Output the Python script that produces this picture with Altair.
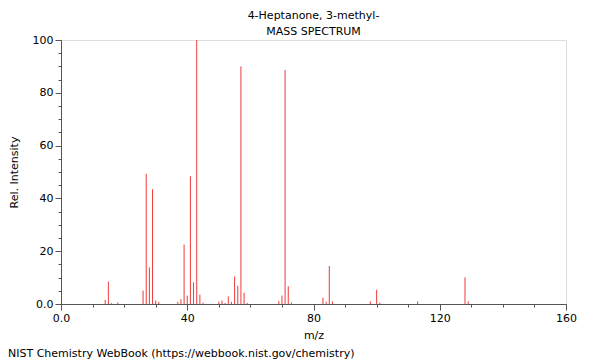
import altair as alt
import pandas as pd

mz = [14, 15, 16, 18, 26, 27, 28, 29, 30, 31, 37, 38, 39, 40, 41, 42, 43, 44, 45,
      50, 51, 52, 53, 54, 55, 56, 57, 58, 59, 69, 70, 71, 72, 73,
      83, 84, 85, 86, 98, 100, 101, 113, 128, 129]
intensity = [1.5, 8.5, 0.3, 0.6, 5.1, 49.3, 13.9, 43.5, 1.3, 0.8, 0.8, 1.8, 22.5, 3.2, 48.4, 8.2, 100.0, 3.5, 0.5,
             0.9, 1.3, 0.4, 2.9, 0.8, 10.4, 6.9, 90.0, 4.3, 0.4, 1.1, 3.2, 88.6, 6.7, 0.6,
             2.4, 0.8, 14.4, 1.0, 1.0, 5.4, 0.5, 1.0, 10.1, 1.0]

x_major = [0, 40, 80, 120, 160]
x_minor = list(range(0, 161, 10))
y_major = [0, 20, 40, 60, 80, 100]
y_minor = list(range(0, 101, 5))

title_lines = ["4-Heptanone, 3-methyl-", "MASS SPECTRUM"]
footer = "NIST Chemistry WebBook (https://webbook.nist.gov/chemistry)"

df = pd.DataFrame({"mz": mz, "intensity": intensity})

FONT = "DejaVu Sans"
AX = "#555555"
zero_lab = "datum.value == 0 ? '0.0' : datum.label"

xs = alt.Scale(domain=[0, 160], nice=False, zero=False)
ys = alt.Scale(domain=[0, 100], nice=False)

peaks = alt.Chart(df).mark_rule(color="#ee3b3b", strokeWidth=1).encode(
    x=alt.X("mz:Q", scale=xs,
            axis=alt.Axis(values=x_major, labelExpr=zero_lab, title="m/z", labelFlush=False,
                          tickSize=6, tickColor=AX, domainColor=AX, grid=False,
                          labelFont=FONT, labelFontSize=11, labelColor="black", labelPadding=2,
                          titleFont=FONT, titleFontSize=11, titleFontWeight="normal",
                          titlePadding=6, titleColor="black", orient="bottom")),
    y=alt.Y("intensity:Q", scale=ys,
            axis=alt.Axis(values=y_major, labelExpr=zero_lab, title="Rel. Intensity", labelFlush=False,
                          tickSize=6, tickColor=AX, domainColor=AX, grid=False,
                          labelFont=FONT, labelFontSize=11, labelColor="black", labelPadding=2,
                          titleFont=FONT, titleFontSize=11, titleFontWeight="normal",
                          titlePadding=13, titleColor="black", orient="left")),
    y2=alt.datum(0),
)

minor = alt.Chart(df).mark_point(opacity=0).encode(
    x=alt.X("mz:Q", scale=xs,
            axis=alt.Axis(values=x_minor, labels=False, title=None, tickSize=3,
                          tickColor=AX, domain=False, grid=False, orient="bottom")),
    y=alt.Y("intensity:Q", scale=ys,
            axis=alt.Axis(values=y_minor, labels=False, title=None, tickSize=3,
                          tickColor=AX, domain=False, grid=False, orient="left")),
)

foot = alt.Chart(pd.DataFrame({"t": [footer]})).mark_text(
    align="left", baseline="middle", font=FONT, fontSize=11, color="black"
).encode(text="t:N", x=alt.value(-53), y=alt.value(314))

chart = alt.layer(peaks, minor, foot).resolve_scale(
    x="independent", y="independent"
).resolve_axis(
    x="independent", y="independent"
).properties(
    width=505, height=264,
    title=alt.TitleParams(text=title_lines, font=FONT, fontSize=11, fontWeight="normal",
                          color="black", anchor="middle", offset=4, lineHeight=16, dy=7),
    autosize=alt.AutoSizeParams(type="none"),
    padding={"left": 53, "top": 32, "right": 26, "bottom": 56},
).configure_view(stroke=AX, strokeWidth=1).configure(background="white")

chart.save("out.html", embed_options={"renderer": "svg", "actions": False})
